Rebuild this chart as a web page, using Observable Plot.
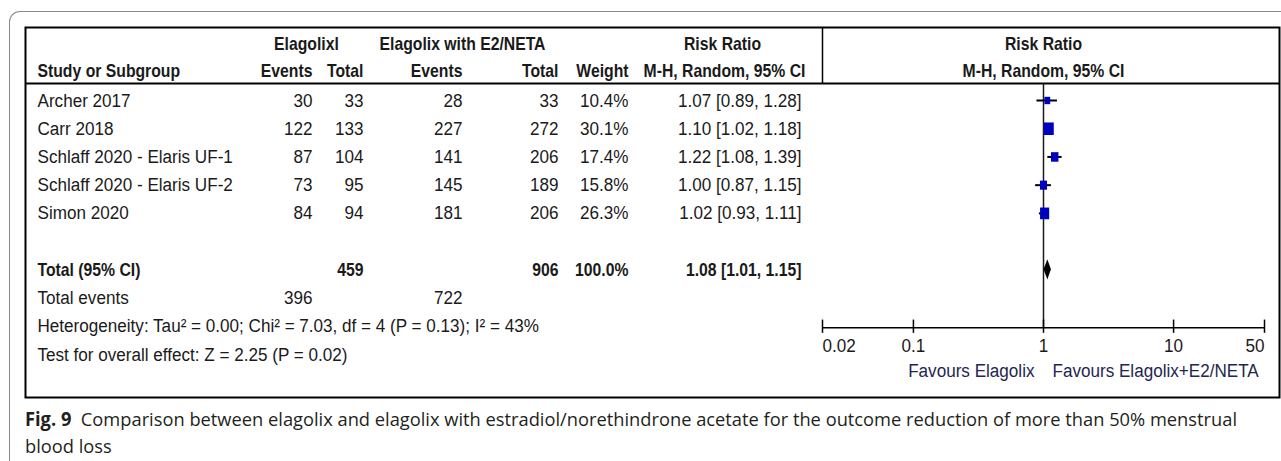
<!DOCTYPE html>
<html><head><meta charset="utf-8">
<script src="https://cdn.jsdelivr.net/npm/d3@7"></script>
<script src="https://cdn.jsdelivr.net/npm/@observablehq/plot@0.6"></script>
<style>
html,body{margin:0;padding:0;background:#fff;}
#wrap{position:relative;width:1281px;height:461px;overflow:hidden;background:#fff;}
#outer{position:absolute;left:9px;top:11px;width:1400px;height:600px;border-left:1.5px solid #8a8a8a;border-top:1.5px solid #8a8a8a;border-top-left-radius:11px;}
#chart{position:absolute;left:0;top:0;}
#cap{position:absolute;left:25px;top:406px;font-family:"Open Sans","Noto Sans",sans-serif;font-size:19px;line-height:27px;color:#231f20;white-space:nowrap;transform-origin:0 0;}
#cap b{font-weight:700;}
</style></head>
<body>
<div id="wrap"><div id="outer"></div><div id="chart"></div><div id="cap"></div></div>
<script>
// ---- data ----
const studies = ["Archer 2017", "Carr 2018", "Schlaff 2020 - Elaris UF-1", "Schlaff 2020 - Elaris UF-2", "Simon 2020"];
const events1 = [30, 122, 87, 73, 84];
const total1 = [33, 133, 104, 95, 94];
const events2 = [28, 227, 141, 145, 181];
const total2 = [33, 272, 206, 189, 206];
const weights = [10.4, 30.1, 17.4, 15.8, 26.3];
const rr = [1.07, 1.10, 1.22, 1.00, 1.02];
const rrLo = [0.89, 1.02, 1.08, 0.87, 0.93];
const rrHi = [1.28, 1.18, 1.39, 1.15, 1.11];
const pooled = [1.08, 1.01, 1.15];
const totalN = [459, 906];
const totalEvents = [396, 722];
const group1 = "Elagolixl";
const group2 = "Elagolix with E2/NETA";
const heterogeneity = "Heterogeneity: Tau² = 0.00; Chi² = 7.03, df = 4 (P = 0.13); I² = 43%";
const overall = "Test for overall effect: Z = 2.25 (P = 0.02)";
const tickValues = [0.02, 0.1, 1, 10, 50];
const tickLabels = ["0.02", "0.1", "1", "10", "50"];
const favours = ["Favours Elagolix", "Favours Elagolix+E2/NETA"];
const captionLabel = "Fig. 9";
const captionText = "Comparison between elagolix and elagolix with estradiol/norethindrone acetate for the outcome reduction of more than 50% menstrual";
const captionText2 = "blood loss";

// ---- layout ----
const FONT = '"Liberation Sans","Arial",sans-serif';
const ML = 25;
const colStudy = 37, colEv1 = 312, colTot1 = 363, colEv2 = 462, colTot2 = 558, colW = 628, colRR = 801;
const rowHdr1 = -2.02, rowHdr2 = -1.06, rowSep = -0.60, rowTop = -2.59;
const rowTotal = 6, rowEvents = 7, rowHet = 8, rowTest = 9, rowAxis = 8.05;
const TXT = "#1a1a1a";
const SQ_REG = 0.9, SQ_BOLD = 0.83;

const fmt = v => v.toFixed(2);
const rows = studies.map((s, i) => ({
  study: s, row: i, e1: events1[i], n1: total1[i], e2: events2[i], n2: total2[i],
  w: weights[i], rr: rr[i], lo: rrLo[i], hi: rrHi[i],
  wt: weights[i].toFixed(1) + "%", ci: `${fmt(rr[i])} [${fmt(rrLo[i])}, ${fmt(rrHi[i])}]`
}));

function col(data, px, opts) {
  return Plot.text(data, {frameAnchor: "left", dx: px - ML, fill: TXT, ...opts});
}

const rectSymbol = {
  draw(ctx, size) {
    const s = Math.sqrt(size);
    const w = s * 0.95, h = s * 1.22;
    ctx.rect(-w / 2, -h / 2, w, h);
  }
};

const hw = 0.36;
const diamond = [
  {x: pooled[1], y1: rowTotal, y2: rowTotal},
  {x: pooled[0], y1: rowTotal - hw, y2: rowTotal + hw},
  {x: pooled[2], y1: rowTotal, y2: rowTotal}
];
const ticks = tickValues.map((v, i) => ({v, label: tickLabels[i], i}));

const chart = Plot.plot({
  width: 1281, height: 400,
  marginLeft: ML, marginRight: 2, marginTop: 27, marginBottom: 3,
  style: {fontFamily: FONT, fontSize: "19px", color: TXT, background: "transparent"},
  x: {type: "log", domain: [0.02, 50], range: [822, 1264], axis: null},
  y: {type: "linear", domain: [0, 9], range: [100, 354], axis: null},
  r: {type: "sqrt", domain: [0, 30.1], range: [0, 5.8]},
  marks: [
    Plot.frame({stroke: "#000", strokeWidth: 2}),
    Plot.ruleY([rowSep], {stroke: "#000", strokeWidth: 2}),
    Plot.ruleX([0.02], {y1: rowTop, y2: rowSep, stroke: "#000", strokeWidth: 1.5}),
    // header
    col([group1], 306, {y: rowHdr1, text: d => d, textAnchor: "middle", fontWeight: "bold"}),
    col([group2], colEv2, {y: rowHdr1, text: d => d, textAnchor: "middle", fontWeight: "bold"}),
    col(["Risk Ratio"], 722, {y: rowHdr1, text: d => d, textAnchor: "middle", fontWeight: "bold"}),
    Plot.text(["Risk Ratio"], {x: 1, y: rowHdr1, text: d => d, fontWeight: "bold", fill: TXT}),
    Plot.text(["M-H, Random, 95% CI"], {x: 1, y: rowHdr2, text: d => d, fontWeight: "bold", fill: TXT}),
    col(["Study or Subgroup"], colStudy, {y: rowHdr2, text: d => d, textAnchor: "start", fontWeight: "bold"}),
    col(["Events"], colEv1, {y: rowHdr2, text: d => d, textAnchor: "end", fontWeight: "bold"}),
    col(["Total"], colTot1, {y: rowHdr2, text: d => d, textAnchor: "end", fontWeight: "bold"}),
    col(["Events"], colEv2, {y: rowHdr2, text: d => d, textAnchor: "end", fontWeight: "bold"}),
    col(["Total"], colTot2, {y: rowHdr2, text: d => d, textAnchor: "end", fontWeight: "bold"}),
    col(["Weight"], colW, {y: rowHdr2, text: d => d, textAnchor: "end", fontWeight: "bold"}),
    col(["M-H, Random, 95% CI"], 724, {y: rowHdr2, text: d => d, textAnchor: "middle", fontWeight: "bold"}),
    // study rows
    col(rows, colStudy, {y: "row", text: "study", textAnchor: "start"}),
    col(rows, colEv1, {y: "row", text: "e1", textAnchor: "end"}),
    col(rows, colTot1, {y: "row", text: "n1", textAnchor: "end"}),
    col(rows, colEv2, {y: "row", text: "e2", textAnchor: "end"}),
    col(rows, colTot2, {y: "row", text: "n2", textAnchor: "end"}),
    col(rows, colW, {y: "row", text: "wt", textAnchor: "end"}),
    col(rows, colRR, {y: "row", text: "ci", textAnchor: "end"}),
    // total rows
    col(["Total (95% CI)"], colStudy, {y: rowTotal, text: d => d, textAnchor: "start", fontWeight: "bold"}),
    col([totalN[0]], colTot1, {y: rowTotal, text: d => d, textAnchor: "end", fontWeight: "bold"}),
    col([totalN[1]], colTot2, {y: rowTotal, text: d => d, textAnchor: "end", fontWeight: "bold"}),
    col(["100.0%"], colW, {y: rowTotal, text: d => d, textAnchor: "end", fontWeight: "bold"}),
    col([`${fmt(pooled[0])} [${fmt(pooled[1])}, ${fmt(pooled[2])}]`], colRR, {y: rowTotal, text: d => d, textAnchor: "end", fontWeight: "bold"}),
    col(["Total events"], colStudy, {y: rowEvents, text: d => d, textAnchor: "start"}),
    col([totalEvents[0]], colEv1, {y: rowEvents, text: d => d, textAnchor: "end"}),
    col([totalEvents[1]], colEv2, {y: rowEvents, text: d => d, textAnchor: "end"}),
    col([heterogeneity], colStudy, {y: rowHet, text: d => d, textAnchor: "start"}),
    col([overall], colStudy, {y: rowTest, text: d => d, textAnchor: "start"}),
    // forest
    Plot.ruleX([1], {y1: rowSep, y2: rowAxis, stroke: "#1a1a1a", strokeWidth: 1.5}),
    Plot.ruleY(rows, {x1: "lo", x2: "hi", y: "row", stroke: "#000", strokeWidth: 2}),
    Plot.dot(rows, {x: "rr", y: "row", r: "w", symbol: rectSymbol, fill: "#0000c0", stroke: null}),
    Plot.area(diamond, {x1: "x", y1: "y1", y2: "y2", fill: "#000"}),
    // axis
    Plot.ruleY([rowAxis], {x1: 0.02, x2: 50, stroke: "#000", strokeWidth: 1.5}),
    Plot.ruleX(tickValues, {y1: rowAxis - 0.27, y2: rowAxis + 0.2, stroke: "#000", strokeWidth: 1.5}),
    Plot.text(ticks.filter(d => d.i === 0), {x: "v", y: rowAxis, dy: 18, text: "label", textAnchor: "start", fill: TXT}),
    Plot.text(ticks.filter(d => d.i > 0 && d.i < ticks.length - 1), {x: "v", y: rowAxis, dy: 18, text: "label", textAnchor: "middle", fill: TXT}),
    Plot.text(ticks.filter(d => d.i === ticks.length - 1), {x: "v", y: rowAxis, dy: 18, text: "label", textAnchor: "end", fill: TXT}),
    Plot.text([favours[0]], {x: 1, y: rowAxis, dx: -9, dy: 43, text: d => d, textAnchor: "end", fill: "#23264f"}),
    Plot.text([favours[1]], {x: 1, y: rowAxis, dx: 9, dy: 43, text: d => d, textAnchor: "start", fill: "#23264f"})
  ]
});
document.getElementById("chart").appendChild(chart);

// condense the table font horizontally (narrow face), anchored at each text's own position
chart.querySelectorAll("text").forEach(el => {
  const bold = parseInt(getComputedStyle(el).fontWeight, 10) >= 600;
  const k = bold ? SQ_BOLD : SQ_REG;
  const t = el.getAttribute("transform");
  if (t) {
    el.setAttribute("transform", `${t} scale(${k},1)`);
  } else {
    const x = +(el.getAttribute("x") || 0), y = +(el.getAttribute("y") || 0);
    el.removeAttribute("x"); el.removeAttribute("y");
    el.setAttribute("transform", `translate(${x},${y}) scale(${k},1)`);
  }
});

const cap = document.getElementById("cap");
const l1 = document.createElement("div");
const b = document.createElement("b"); b.textContent = captionLabel;
l1.appendChild(b); l1.appendChild(document.createTextNode("\u00a0\u00a0" + captionText));
const l2 = document.createElement("div"); l2.textContent = captionText2;
cap.appendChild(l1); cap.appendChild(l2);
const target = 1212;
const wNow = l1.getBoundingClientRect().width;
if (wNow > 0) cap.style.transform = `scaleX(${target / wNow})`;
</script>
</body></html>
